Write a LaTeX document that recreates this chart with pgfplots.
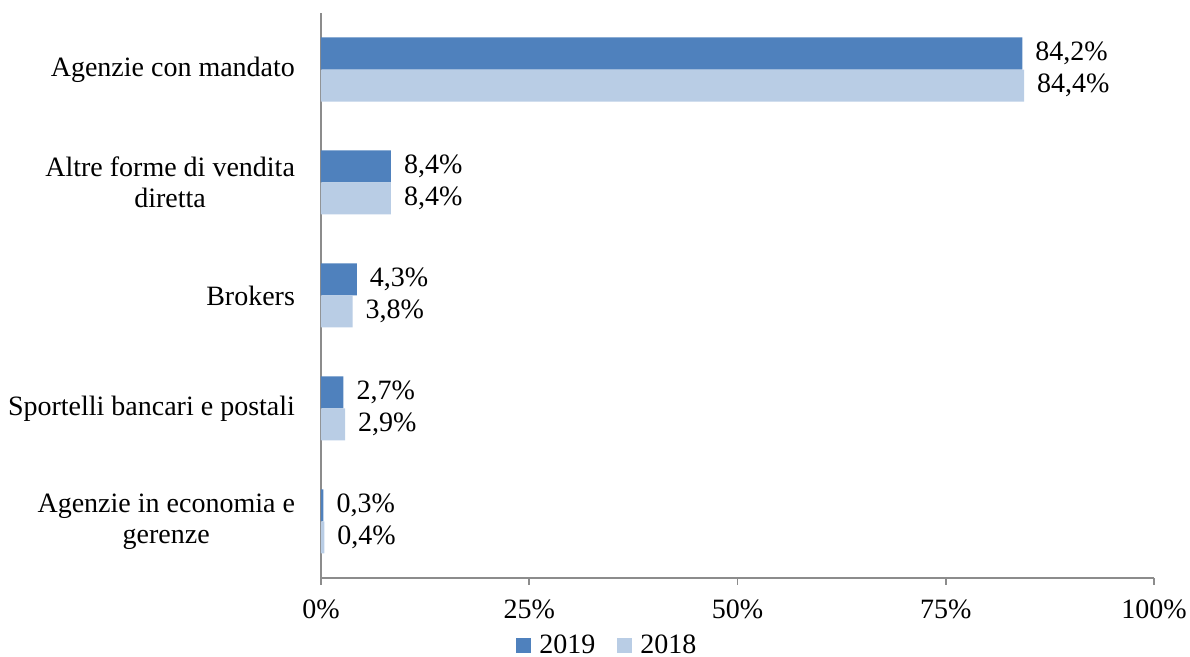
\documentclass[border=0pt]{standalone}
\usepackage{pgfplots}
\pgfplotsset{compat=1.18}
\usepackage{fontspec}
\setmainfont{Liberation Serif}
\definecolor{c2019}{HTML}{4F81BD}
\definecolor{c2018}{HTML}{B9CDE5}
\definecolor{axgray}{HTML}{8C8C8C}
\begin{document}
\begin{tikzpicture}
\path[use as bounding box] (-160.5pt,-39.5pt) rectangle (434.5pt,289pt);
\begin{axis}[
  scale only axis,
  width=416.5pt, height=282.5pt,
  anchor=south west, at={(0pt,0pt)},
  xbar, bar width=16pt,
  xmin=0, xmax=100,
  ymin=-0.5, ymax=4.5,
  axis lines*=left,
  axis line style={axgray, line width=0.8pt},
  xtick={0,25,50,75,100},
  xticklabels={0\%,25\%,50\%,75\%,100\%},
  ytick={0,1,2,3,4},
  yticklabels={{Agenzie in economia e\\gerenze},{Sportelli bancari e postali},{Brokers},{Altre forme di vendita\\diretta},{Agenzie con mandato}},
  tick style={axgray, line width=0.8pt},
  xtick align=outside,
  major tick length=3.5pt,
  ytick style={draw=none},
  y tick label style={align=center, font=\fontsize{14}{15.5}\selectfont, xshift=-6pt},
  x tick label style={font=\fontsize{14}{15.5}\selectfont, yshift=-4pt},
  /pgf/number format/assume math mode=true,
  nodes near coords={\pgfmathprintnumber[fixed,fixed zerofill,precision=1,use comma]{\pgfplotspointmeta}\%},
  every node near coord/.append style={font=\fontsize{14}{15.5}\selectfont, anchor=west, xshift=3pt},
  legend style={at={(0.345,-0.119)}, anchor=center, draw=none, legend columns=2,
    font=\fontsize{14}{15.5}\selectfont, /tikz/every even column/.append style={column sep=9pt},
    /tikz/every odd column/.append style={column sep=2pt}},
  legend image code/.code={\fill[#1] (0pt,-3.75pt) rectangle (7.5pt,3.75pt);},
  clip=false,
]
\addplot[fill=c2019, draw=none, bar shift=8pt] coordinates {(0.3,0) (2.7,1) (4.3,2) (8.4,3) (84.2,4)};
\addplot[fill=c2018, draw=none, bar shift=-8pt] coordinates {(0.4,0) (2.9,1) (3.8,2) (8.4,3) (84.4,4)};
\legend{2019,2018}
\end{axis}
\end{tikzpicture}
\end{document}
